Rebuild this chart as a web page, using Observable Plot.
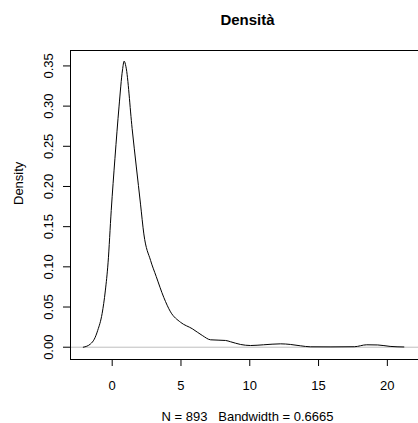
<!DOCTYPE html>
<html>
<head>
<meta charset="utf-8">
<script src="https://cdn.jsdelivr.net/npm/d3@7"></script>
<script src="https://cdn.jsdelivr.net/npm/@observablehq/plot@0.6"></script>
<style>
  html, body { margin: 0; padding: 0; overflow: hidden; background: white; }
</style>
</head>
<body>
<div id="chart"></div>
<script>
// Density estimate points (x, density)
const densX = [-2.1, -1.58, -1.3, -1.05, -0.73, -0.5, -0.3, -0.07, 0.2, 0.5, 0.75, 0.87, 1.0, 1.45, 2.06, 2.3, 2.79, 3.2, 3.75, 4.24, 4.97, 5.82, 6.55, 7.15, 8.24, 8.6, 9.33, 10.06, 11.0, 12.24, 12.97, 13.7, 14.4, 15.9, 17.6, 18.5, 19.3, 20.2, 21.2];
const densY = [0.0, 0.004, 0.010, 0.021, 0.042, 0.07, 0.105, 0.17, 0.235, 0.300, 0.345, 0.356, 0.349, 0.272, 0.178, 0.141, 0.108, 0.088, 0.062, 0.044, 0.031, 0.023, 0.0146, 0.0092, 0.0084, 0.0068, 0.0034, 0.0021, 0.003, 0.0042, 0.0034, 0.0017, 0.0005, 0.0004, 0.0006, 0.003, 0.0028, 0.001, 0.0003];
const xTicks = [0, 5, 10, 15, 20];
const yTicks = [0, 0.05, 0.10, 0.15, 0.20, 0.25, 0.30, 0.35];
const titleText = "Densità";
const yLabel = "Density";
const captionText = "N = 893\u00a0\u00a0\u00a0Bandwidth = 0.6665";

const data = densX.map((x, i) => ({x, y: densY[i]}));
const fmt = d3.format(".2f");

const chart = Plot.plot({
  width: 430,
  height: 423,
  marginLeft: 70,
  marginRight: 6,
  marginTop: 50,
  marginBottom: 64,
  style: {fontFamily: "'Liberation Sans', Arial, sans-serif", background: "white"},
  x: {domain: [-3.03, 22.7], axis: null},
  y: {domain: [-0.0153, 0.3692], axis: null},
  marks: [
    Plot.ruleY([0], {stroke: "#bebebe", strokeWidth: 1}),
    Plot.line(data, {x: "x", y: "y", stroke: "black", strokeWidth: 1, curve: "monotone-x"}),
    Plot.frame({stroke: "black", strokeWidth: 1}),
    Plot.axisX(xTicks, {tickSize: 7, tickFormat: () => "", label: null, stroke: "black"}),
    Plot.axisY(yTicks, {tickSize: 7, tickFormat: () => "", label: null, stroke: "black"}),
    Plot.text(xTicks, {x: d => d, frameAnchor: "bottom", dy: 26, text: d => String(d), fontSize: 13, fill: "black", lineAnchor: "middle"}),
    Plot.text(yTicks, {y: d => d, frameAnchor: "left", dx: -22, rotate: -90, text: d => fmt(d), fontSize: 13, fill: "black", lineAnchor: "middle", textAnchor: "middle"}),
    Plot.text([yLabel], {frameAnchor: "left", dx: -52, rotate: -90, fontSize: 13, fill: "black", lineAnchor: "middle"}),
    Plot.text([titleText], {frameAnchor: "top", dy: -30, fontSize: 15, fontWeight: "bold", fill: "black", lineAnchor: "middle"}),
    Plot.text([captionText], {frameAnchor: "bottom", dy: 57, fontSize: 13, fill: "black", lineAnchor: "middle"})
  ]
});
chart.style.maxWidth = "none";
document.getElementById("chart").appendChild(chart);
</script>
</body>
</html>
